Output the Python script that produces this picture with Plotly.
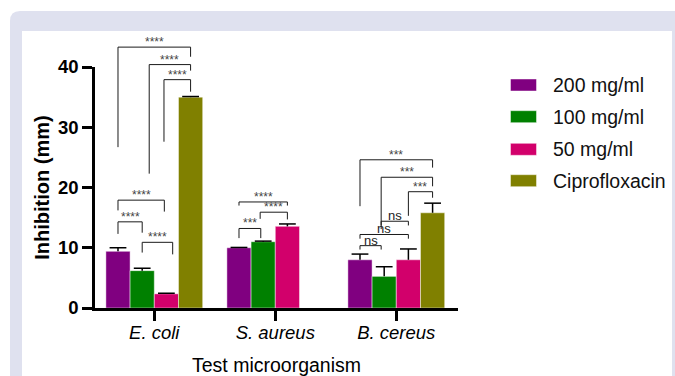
import plotly.graph_objects as go

# ---------------- data ----------------
categories = ["E. coli", "S. aureus", "B. cereus"]
series_names = ["200 mg/ml", "100 mg/ml", "50 mg/ml", "Ciprofloxacin"]
v200 = [9.4, 10.0, 8.0]
v100 = [6.2, 11.0, 5.25]
v50 = [2.35, 13.55, 8.0]
vcipro = [35.0, None, 15.8]
e200 = [0.6, 0.05, 0.95]
e100 = [0.4, 0.1, 1.6]
e50 = [0.1, 0.4, 1.8]
ecipro = [0.1, None, 1.6]
y_ticks = [0, 10, 20, 30, 40]

# significance comparisons: (category, bar a, bar b, bracket level, leg end a, leg end b, label)
comparisons = [
    (0, 0, 3, 43.3, 26.7, 41.7, "****"),
    (0, 1, 3, 40.4, 22.3, 39.4, "****"),
    (0, 2, 3, 37.9, 27.6, 35.9, "****"),
    (0, 0, 2, 17.9, 16.2, 16.0, "****"),
    (0, 0, 1, 14.3, 12.3, 12.5, "****"),
    (0, 1, 2, 10.9, 9.2, 8.9, "****"),
    (1, 0, 2, 17.6, 17.0, 17.0, "****"),
    (1, 1, 2, 15.9, 14.8, 14.7, "****"),
    (1, 0, 1, 13.2, 11.6, 11.6, "***"),
    (2, 0, 3, 24.6, 16.9, 23.3, "***"),
    (2, 1, 3, 21.7, 13.1, 20.2, "***"),
    (2, 2, 3, 19.3, 15.3, 18.3, "***"),
    (2, 1, 2, 14.4, 13.7, 13.7, "ns"),
    (2, 0, 2, 12.2, 11.5, 11.5, "ns"),
    (2, 0, 1, 10.35, 9.7, 9.7, "ns"),
]
# small horizontal leg nudges (category units), keyed by (comparison index, side)
leg_nudge = {(1, 0): 0.058, (2, 0): -0.02, (3, 1): -0.017, (5, 1): 0.052,
             (7, 0): -0.025, (8, 1): -0.02, (10, 0): -0.025, (12, 0): -0.025,
             (14, 1): -0.025}

values = [v200, v100, v50, vcipro]
errors = [e200, e100, e50, ecipro]
colors = ["#800080", "#008000", "#d2006b", "#808000"]

# ---------------- layout geometry ----------------
W, H = 675, 376
ML, MR, MT, MB = 95, 217, 67, 68
PW, PH = W - ML - MR, H - MT - MB
YMAX = 40
FONT = "Liberation Sans, Arial, sans-serif"
BARGAP = 0.2
NB = len(series_names)
bw = (1 - BARGAP) / NB


def px2x(px):
    return (px - ML) / PW


def py2y(py):
    return (H - MB - py) / PH


def bar_center(cat, k):
    return cat - (1 - BARGAP) / 2 + bw * (k + 0.5)


fig = go.Figure()

for name, vals, col in zip(series_names, values, colors):
    fig.add_trace(go.Bar(
        x=categories, y=vals, name=name,
        marker=dict(color=col, line=dict(color="rgba(255,255,255,0.45)", width=1)),
        showlegend=False,
    ))

# error bars: vertical whisker + cap (one-sided, upward)
for name, vals, errs in zip(series_names, values, errors):
    tops = [None if v is None else v + e for v, e in zip(vals, errs)]
    fig.add_trace(go.Scatter(
        x=categories, y=tops, mode="markers", showlegend=False, hoverinfo="skip",
        marker=dict(symbol="line-ew", size=12, line=dict(color="black", width=1.5)),
        error_y=dict(type="data", symmetric=False, array=[0] * len(tops),
                     arrayminus=[0 if e is None else e for e in errs],
                     width=0, thickness=1.5, color="black"),
    ))

shapes = []
annotations = []

# background frame (light lavender rounded panel with white inner area)
x0, y0, x1, y1, r = px2x(10), py2y(11), px2x(700), py2y(420), 10
rx, ry = r / PW, r / PH
shapes.append(dict(
    type="path", xref="paper", yref="paper", layer="below",
    path=(f"M{x0},{y0 - ry} Q{x0},{y0} {x0 + rx},{y0} L{x1},{y0} L{x1},{y1} "
          f"L{x0},{y1} Z"),
    fillcolor="#dfe1ef", line=dict(width=0)))
shapes.append(dict(type="rect", xref="paper", yref="paper", layer="below",
                   x0=px2x(22), x1=px2x(672), y0=py2y(31), y1=py2y(420),
                   fillcolor="white", line=dict(width=0)))

# significance brackets
for i, (cat, a, b, lvl, ea, eb, lab) in enumerate(comparisons):
    xa = bar_center(cat, a) + leg_nudge.get((i, 0), 0)
    xb = bar_center(cat, b) + leg_nudge.get((i, 1), 0)
    shapes.append(dict(
        type="path", xref="x", yref="paper", layer="above",
        path=(f"M{xa},{ea / YMAX} L{xa},{lvl / YMAX} L{xb},{lvl / YMAX} "
              f"L{xb},{eb / YMAX}"),
        line=dict(color="#1a1a1a", width=1)))
    if lab == "ns":
        annotations.append(dict(x=(xa + xb) / 2, y=lvl / YMAX, xref="x", yref="paper",
                                text=lab, showarrow=False, xanchor="center",
                                yanchor="bottom", yshift=-4,
                                font=dict(family=FONT, size=13, color="#222")))
    else:
        annotations.append(dict(x=(xa + xb) / 2, y=lvl / YMAX, xref="x", yref="paper",
                                text=lab, showarrow=False, xanchor="center",
                                yanchor="bottom", yshift=-4,
                                font=dict(family=FONT, size=12, color="#444")))

# manual legend
leg_rows = [85, 116.7, 149.3, 180.7]
for name, col, cy in zip(series_names, colors, leg_rows):
    shapes.append(dict(type="rect", xref="paper", yref="paper",
                       x0=px2x(510.5), x1=px2x(536.5), y0=py2y(cy - 6), y1=py2y(cy + 6),
                       fillcolor=col, line=dict(color="rgba(255,255,255,0.45)", width=1)))
    annotations.append(dict(x=px2x(551), y=py2y(cy), xref="paper", yref="paper",
                            text=name, showarrow=False, xanchor="left", yanchor="middle",
                            font=dict(family=FONT, size=19.5, color="#111")))

fig.update_layout(
    width=W, height=H,
    margin=dict(l=ML, r=MR, t=MT, b=MB, pad=0, autoexpand=False),
    paper_bgcolor="white", plot_bgcolor="rgba(0,0,0,0)",
    barmode="group", bargap=BARGAP, bargroupgap=0,
    scattermode="group", scattergap=BARGAP,
    showlegend=False,
    font=dict(family=FONT, color="black"),
    shapes=shapes, annotations=annotations,
    xaxis=dict(
        type="category", range=[-0.49, 2.51], automargin=False,
        showline=True, linecolor="black", linewidth=2.5,
        ticks="outside", ticklen=10, tickwidth=2.5, tickcolor="black",
        ticklabelstandoff=-4,
        showgrid=False, zeroline=False,
        tickfont=dict(family=FONT, size=18.5, style="italic", color="black"),
        title=dict(text="Test microorganism", standoff=17,
                   font=dict(family=FONT, size=19.5, color="black")),
    ),
    yaxis=dict(
        range=[0, YMAX], tickvals=y_ticks, automargin=False,
        showline=True, linecolor="black", linewidth=2.5,
        ticks="outside", ticklen=10, tickwidth=2.5, tickcolor="black",
        showgrid=False, zeroline=False,
        tickfont=dict(family=FONT, size=18.5, weight="bold", color="black"),
        title=dict(text="Inhibition (mm)", standoff=3,
                   font=dict(family=FONT, size=20, weight="bold", color="black")),
    ),
)

fig.write_html("out.html")
